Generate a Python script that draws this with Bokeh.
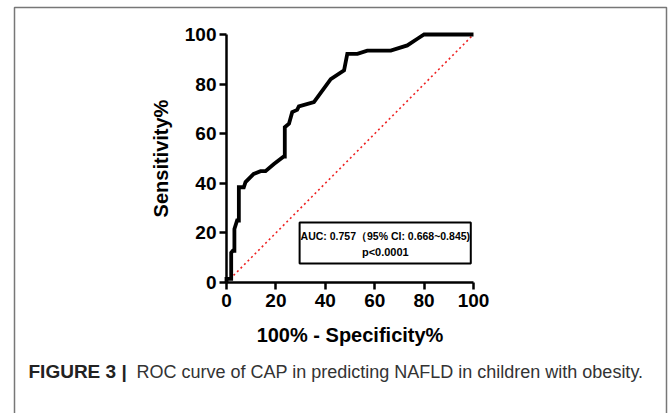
from bokeh.plotting import figure
from bokeh.models import Range1d, FixedTicker
from bokeh.core.properties import value
from bokeh.embed import file_html
from bokeh.resources import INLINE

# ROC curve (100% - specificity, sensitivity)
fpr = [0, 0, 1.9, 1.9, 2.6, 3.2, 3.2, 4.3, 5.0, 5.0, 7.0, 7.7, 11.0, 13.8, 15.8,
       19.2, 23.2, 23.6, 23.6, 25.3, 26.6, 28.6, 29.3, 35.4, 42.2, 47.6, 48.9,
       53.0, 57.0, 66.5, 73.2, 77.3, 80.0, 100]
tpr = [0, 1.5, 1.5, 12.0, 12.8, 12.8, 21.6, 25.0, 25.0, 38.4, 38.4, 40.5, 43.8,
       44.9, 44.9, 47.8, 50.8, 50.8, 62.6, 64.0, 68.7, 69.6, 71.0, 72.7, 82.0,
       85.5, 92.2, 92.2, 93.5, 93.5, 95.6, 98.3, 100, 100]
ref_x = [0, 100]
ref_y = [0, 100]
ticks = [0, 20, 40, 60, 80, 100]
auc_text = "AUC: 0.757\uff0895% CI: 0.668~0.845)"
p_text = "p<0.0001"
caption_bold = "FIGURE 3 |"
caption_rest = "ROC curve of CAP in predicting NAFLD in children with obesity."

W, H = 670, 413
FL, FR, FT, FB = 226, 473, 34, 282   # plot frame in canvas pixels
p = figure(width=W, height=H, output_backend="svg", toolbar_location=None,
           x_range=Range1d(0, 100), y_range=Range1d(0, 100),
           min_border_left=FL, min_border_right=W - FR,
           min_border_top=FT, min_border_bottom=H - FB)
# pixel ranges for page decoration (caption, outer frame)
p.extra_x_ranges = {"px": Range1d(FL, FR)}
p.extra_y_ranges = {"px": Range1d(FB, FT)}
p.grid.visible = False
p.outline_line_color = None
p.background_fill_color = "white"
p.border_fill_color = "white"

for ax in (p.xaxis[0], p.yaxis[0]):
    ax.ticker = FixedTicker(ticks=ticks)
    ax.axis_line_width = 2.5
    ax.axis_line_color = "black"
    ax.major_tick_line_width = 2.5
    ax.major_tick_line_color = "black"
    ax.major_tick_out = 7
    ax.major_tick_in = 0
    ax.minor_tick_line_color = None
    ax.major_label_text_font = "Liberation Sans"
    ax.major_label_text_font_style = "bold"
    ax.major_label_text_font_size = "19px"
    ax.major_label_text_color = "black"
    ax.axis_label_text_font = "Liberation Sans"
    ax.axis_label_text_font_style = "bold"
    ax.axis_label_text_font_size = "20px"
    ax.axis_label_text_color = "black"

p.xaxis.axis_label = "100% - Specificity%"
p.yaxis.axis_label = "Sensitivity%"
p.xaxis.major_label_standoff = 4
p.yaxis.major_label_standoff = 3
p.xaxis.axis_label_standoff = 14
p.yaxis.axis_label_standoff = 10

p.line(ref_x, ref_y, line_color="#ee2222", line_width=1.6, line_dash="2 3")
p.line(fpr, tpr, line_color="black", line_width=3.8, line_join="miter",
       level="overlay")

# AUC annotation box
p.quad(left=[29.6], right=[98.9], bottom=[7.7], top=[24.2],
       fill_color="white", line_color="black", line_width=2, level="overlay")
p.text(x=[64.3], y=[18.8], text=[auc_text], text_align="center",
       text_baseline="middle", text_font=value("Liberation Sans"),
       text_font_style="bold", text_font_size="10.5px", text_color="black",
       level="overlay")
p.text(x=[64.3], y=[12.4], text=[p_text], text_align="center",
       text_baseline="middle", text_font=value("Liberation Sans"),
       text_font_style="bold", text_font_size="11px", text_color="black",
       level="overlay")

# outer figure frame and caption (pixel ranges)
p.quad(left=[14], right=[666], top=[7], bottom=[H + 20],
       x_range_name="px", y_range_name="px",
       fill_alpha=0, line_color="#777777", line_width=1.5, level="overlay")
p.text(x=[28], y=[371], text=[caption_bold], x_range_name="px",
       y_range_name="px", text_baseline="middle",
       text_font=value("Liberation Sans"), text_font_style="bold",
       text_font_size="19px", text_color="#222222", level="overlay")
p.text(x=[136], y=[371], text=[caption_rest], x_range_name="px",
       y_range_name="px", text_baseline="middle",
       text_font=value("Liberation Sans"), text_font_size="18px",
       text_color="#333333", level="overlay")

open("out.html", "w").write(file_html(p, INLINE))
